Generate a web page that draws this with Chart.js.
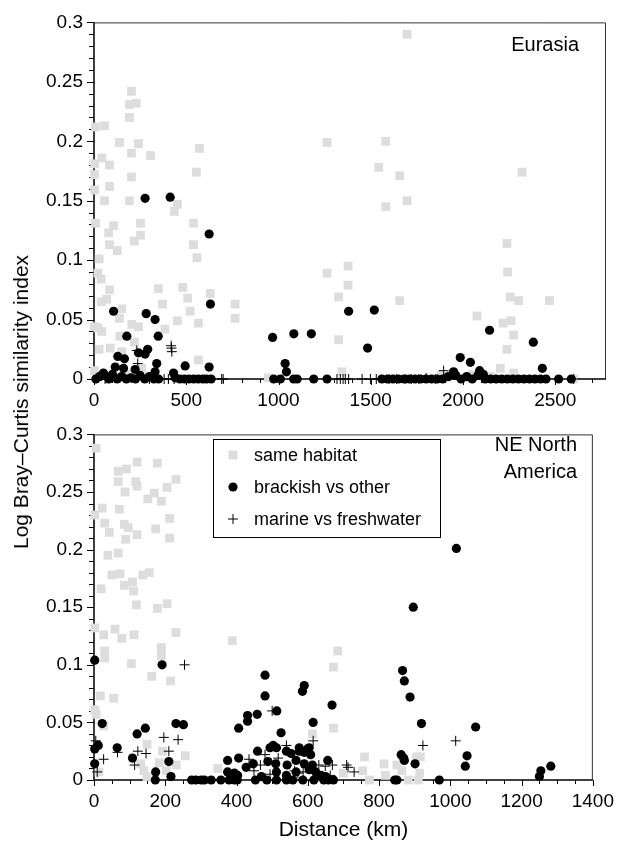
<!DOCTYPE html>
<html>
<head>
<meta charset="utf-8">
<script src="https://cdn.jsdelivr.net/npm/chart.js@4.4.1/dist/chart.umd.min.js"></script>
<style>
  body { margin: 0; background: #fff; width: 624px; height: 843px; position: relative; overflow: hidden; font-family: "Liberation Sans", Arial, sans-serif; }
  #top { position: absolute; left: 0; top: 0; }
  #bot { position: absolute; left: 0; top: 412px; }
  #ytitle { position: absolute; left: 21px; top: 402px; transform: translate(-50%, -50%) rotate(-90deg); font-size: 21px; white-space: nowrap; color: #000; }
</style>
</head>
<body>
<canvas id="top" width="624" height="412"></canvas>
<canvas id="bot" width="624" height="431"></canvas>
<div id="ytitle">Log Bray–Curtis similarity index</div>
<script>
// ---- Eurasia (distance km / log similarity) ----
const euSameKm = [
  203,192,229,192,8,57,138,241,572,203,
  306,43,3,84,555,3,203,84,3,57,
  192,452,436,8,106,79,252,252,219,84,
  126,539,539,558,28,21,39,84,69,39,
  349,481,508,371,151,138,521,452,566,205,
  241,384,21,42,140,219,28,88,151,566,
  765,765,3,259,945,1263,1697,1581,1543,1657,
  2320,1697,1581,1263,1377,1377,1326,1657,1326,2238,
  2242,2256,2301,2469,2076,2217,2260,2274,2238,2202,
  1344,2599,2274,3,30,120,180,1880,1950,2050,
  2150,630
];
const euSameVal = [
  0.242,0.231,0.232,0.220,0.212,0.213,0.199,0.198,0.194,0.190,
  0.188,0.186,0.181,0.180,0.174,0.172,0.170,0.162,0.159,0.150,
  0.150,0.147,0.141,0.131,0.129,0.123,0.131,0.121,0.116,0.113,
  0.108,0.131,0.113,0.102,0.101,0.089,0.084,0.075,0.067,0.065,
  0.076,0.077,0.068,0.063,0.059,0.051,0.057,0.049,0.047,0.046,
  0.044,0.042,0.043,0.040,0.036,0.031,0.025,0.026,0.023,0.016,
  0.063,0.051,0.007,0.009,0.001,0.199,0.290,0.200,0.178,0.171,
  0.174,0.150,0.145,0.089,0.095,0.079,0.069,0.066,0.033,0.114,
  0.090,0.069,0.066,0.066,0.053,0.047,0.049,0.037,0.025,0.009,
  0.006,0.000,0.005,0.044,0.003,0.002,0.004,0.003,0.005,0.004,
  0.002,0.072
];
const euBrackKm = [
  277,413,624,631,106,283,331,178,348,968,
  291,241,277,129,165,340,1036,494,624,115,
  160,223,51,431,331,1380,1519,1083,1178,1483,
  1043,2144,2381,1985,2040,2430,2090,1949,2110,1960,
  10,30,55,80,100,125,150,175,200,225,
  250,275,300,325,350,440,465,490,515,540,
  565,590,610,635,974,1010,1082,1101,1191,1263,
  1560,1590,1620,1650,1680,1710,1740,1770,1800,1830,
  1860,1890,1920,1960,1990,2020,2050,2080,2120,2150,
  2180,2210,2240,2270,2300,2330,2360,2390,2420,2450,
  2518,2587
];
const euBrackVal = [
  0.152,0.153,0.122,0.063,0.057,0.055,0.050,0.036,0.036,0.035,
  0.025,0.022,0.021,0.019,0.017,0.013,0.013,0.011,0.010,0.010,
  0.009,0.008,0.005,0.005,0.006,0.057,0.058,0.038,0.038,0.026,
  0.006,0.041,0.031,0.018,0.014,0.009,0.007,0.006,0.004,0.003,
  0,0.002,0.003,0,0.004,0,0.002,0,0.001,0,
  0.003,0,0.002,0,0,0.001,0,0,0,0,
  0,0,0,0,0,0,0,0,0,0,
  0,0,0,0,0,0,0,0,0,0,
  0,0,0.002,0.003,0,0.002,0,0.003,0,0,
  0,0,0,0,0,0,0,0,0,0,
  0,0
];
const euMarineKm = [
  418,420,422,232,237,403,434,692,700,1317,
  1335,1380,1453,1498,1530,1600,1640,1690,1720,1760,
  1895,2600,1350,1362,60,140,300,380,1800,1850
];
const euMarineVal = [
  0.028,0.026,0.023,0.024,0.013,0,0,0,0,0,
  0,0,0,0,0,0,0,0,0,0,
  0.007,0,0,0,0,0.001,0,0,0.001,0
];
const euXTicks = [0, 500, 1000, 1500, 2000, 2500];

// ---- NE North America ----
const naSameKm = [
  6,121,178,68,91,68,117,230,87,121,
  151,169,205,189,23,71,2,212,30,85,
  96,43,121,173,89,212,39,68,50,73,
  85,108,137,155,111,20,119,178,205,2,
  27,59,78,112,230,388,189,189,30,30,
  105,162,215,18,55,2,6,27,149,192,
  256,131,183,14,149,347,231,203,684,672,
  672,613,759,754,814,818,773,700,850,864,
  882,910,905,916,914,140
];
const naSameVal = [
  0.288,0.276,0.275,0.268,0.270,0.259,0.259,0.261,0.250,0.255,
  0.244,0.249,0.254,0.242,0.236,0.235,0.230,0.227,0.223,0.222,
  0.219,0.215,0.213,0.218,0.209,0.210,0.195,0.197,0.178,0.179,
  0.169,0.172,0.178,0.180,0.164,0.166,0.152,0.149,0.153,0.132,
  0.126,0.131,0.123,0.126,0.128,0.121,0.115,0.108,0.112,0.106,
  0.101,0.090,0.086,0.073,0.071,0.061,0.057,0.047,0.031,0.025,
  0.021,0.014,0.015,0.007,0.003,0.010,0.013,0.008,0.112,0.098,
  0.045,0.040,0.020,0.008,0.014,0.004,0.000,0.006,0.013,0.008,
  0,0,0.020,0.020,0.006,0.008
];
const naBrackKm = [
  1017,896,2,191,480,480,23,230,251,144,
  121,2,12,65,108,2,210,173,172,216,
  406,431,431,458,513,525,590,585,668,615,
  866,871,887,919,503,512,494,599,576,553,
  459,406,375,447,427,488,510,567,590,613,
  542,656,862,869,871,901,1047,1042,969,844,
  850,274,301,329,356,379,402,394,453,485,
  512,540,558,586,617,645,658,672,375,394,
  403,512,540,567,604,622,637,650,1282,1254,
  1250,1071,540,576,590,604,608,286,310,470
];
const naBrackVal = [
  0.201,0.150,0.104,0.100,0.091,0.073,0.049,0.049,0.048,0.045,
  0.040,0.027,0.030,0.028,0.019,0.014,0.016,0.007,0,0.003,
  0.045,0.056,0.051,0.057,0.060,0.041,0.082,0.077,0.065,0.050,
  0.095,0.086,0.072,0.049,0.030,0.028,0.028,0.027,0.025,0.023,
  0.025,0.019,0.017,0.014,0.011,0.016,0.014,0.017,0.014,0.013,
  0.013,0.017,0.022,0.019,0.017,0.014,0.021,0.012,0,0,
  0,0,0,0,0,0,0,0,0,0,
  0,0,0,0,0,0,0,0,0.007,0.006,
  0.004,0.007,0.004,0.007,0.009,0.007,0.004,0.003,0.012,0.008,
  0.003,0.046,0.025,0.028,0.024,0.028,0.022,0,0,0.003
];
const naMarineKm = [
  254,196,236,5,27,66,123,146,210,114,
  9,500,615,540,435,467,449,517,480,563,
  572,631,649,669,709,713,730,923,1015,494,
  663,595,587
];
const naMarineVal = [
  0.100,0.037,0.035,0.034,0.018,0.024,0.025,0.023,0.025,0.013,
  0.007,0.060,0.034,0.030,0.018,0.013,0.008,0.019,0.022,0.008,
  0.006,0.013,0.012,0.013,0.013,0.011,0.007,0.030,0.034,0.005,
  0.004,0.011,0.007
];
const naXTicks = [0, 200, 400, 600, 800, 1000, 1200, 1400];

const seriesNames = ['same habitat', 'brackish vs other', 'marine vs freshwater'];
const yTicks = [0, 0.05, 0.1, 0.15, 0.2, 0.25, 0.3];

const FONT = '"Liberation Sans", Arial, sans-serif';
const zip = (xs, ys) => xs.map((x, i) => ({ x, y: ys[i] }));

// axis frame with major/minor ticks, panel caption and legend box
const frame = {
  id: 'frame',
  beforeDatasetsDraw(chart, args, o) {
    const { ctx, chartArea: a, scales: { x, y } } = chart;
    ctx.save();
    ctx.strokeStyle = '#333';
    ctx.lineWidth = 1;
    ctx.beginPath();
    ctx.moveTo(a.left, a.top + 0.5); ctx.lineTo(a.right - 0.5, a.top + 0.5);
    ctx.lineTo(a.right - 0.5, a.bottom);
    ctx.stroke();
    ctx.strokeStyle = '#000';
    ctx.lineWidth = 1.5;
    ctx.beginPath();
    ctx.moveTo(a.left, a.top); ctx.lineTo(a.left, a.bottom); ctx.lineTo(a.right, a.bottom);
    ctx.stroke();
    ctx.lineWidth = 1;
    ctx.beginPath();
    for (let i = 0; i * o.xMinor <= x.max; i++) {
      const v = i * o.xMinor;
      const px = Math.round(x.getPixelForValue(v)) + 0.5;
      const len = v % o.xMajor === 0 ? 6 : 4;
      ctx.moveTo(px, a.bottom); ctx.lineTo(px, a.bottom + len);
    }
    for (let i = 0; i <= 30; i++) {
      const py = Math.round(y.getPixelForValue(i / 100)) + 0.5;
      const len = i % 5 === 0 ? 7 : 5;
      ctx.moveTo(a.left - len, py); ctx.lineTo(a.left, py);
    }
    ctx.stroke();
    ctx.restore();
  },
  afterDraw(chart, args, o) {
    const { ctx } = chart;
    ctx.save();
    ctx.fillStyle = '#000';
    ctx.font = '20px ' + FONT;
    ctx.textAlign = 'right';
    ctx.textBaseline = 'middle';
    o.label.forEach((t, i) => ctx.fillText(t, o.labelX, o.labelY[i]));
    if (o.legend) {
      const L = o.legend;
      ctx.strokeStyle = '#000';
      ctx.lineWidth = 1;
      ctx.strokeRect(L.x + 0.5, L.y + 0.5, L.w, L.h);
      ctx.font = '18px ' + FONT;
      ctx.textAlign = 'left';
      chart.data.datasets.forEach((ds, i) => {
        const cy = L.y + L.row0 + i * L.gap, cx = L.x + 20;
        if (ds.pointStyle === 'rect') {
          ctx.fillStyle = ds.backgroundColor;
          ctx.fillRect(cx - 4.5, cy - 4.5, 9, 9);
        } else if (ds.pointStyle === 'circle') {
          ctx.fillStyle = '#000';
          ctx.beginPath(); ctx.arc(cx, cy, 4.6, 0, Math.PI * 2); ctx.fill();
        } else {
          ctx.beginPath();
          ctx.moveTo(cx - 5, cy); ctx.lineTo(cx + 5, cy);
          ctx.moveTo(cx, cy - 5); ctx.lineTo(cx, cy + 5);
          ctx.stroke();
        }
        ctx.fillStyle = '#000';
        ctx.fillText(ds.label, L.x + 41, cy + 1);
      });
    }
    ctx.restore();
  }
};

function panel(id, d, opt) {
  return new Chart(document.getElementById(id), {
    type: 'scatter',
    data: {
      datasets: [
        { label: seriesNames[0], data: zip(d.sameKm, d.sameVal), pointStyle: 'rect', pointRadius: 6.2,
          backgroundColor: '#dddddd', borderWidth: 0, order: 3, clip: false },
        { label: seriesNames[1], data: zip(d.brackKm, d.brackVal), pointStyle: 'circle', pointRadius: 4.6,
          backgroundColor: '#000', borderWidth: 0, order: 2, clip: false },
        { label: seriesNames[2], data: zip(d.marineKm, d.marineVal), pointStyle: 'cross', pointRadius: 5,
          borderColor: '#000', borderWidth: 1, order: 1, clip: false }
      ]
    },
    options: {
      responsive: false,
      animation: false,
      events: [],
      layout: { padding: { top: opt.padTop, right: opt.padRight, left: 0, bottom: 0 } },
      plugins: {
        legend: { display: false },
        tooltip: { enabled: false },
        frame: opt.frame
      },
      scales: {
        x: {
          type: 'linear', min: 0, max: opt.xMax,
          grid: { display: false, drawTicks: false },
          border: { display: false },
          afterBuildTicks: s => { s.ticks = d.xTicks.map(v => ({ value: v })); },
          ticks: {
            padding: 10, autoSkip: false, maxRotation: 0,
            color: '#000', font: { family: FONT, size: 19 },
            callback: v => String(v)
          },
          title: opt.xTitle ? { display: true, text: opt.xTitle, color: '#000',
            font: { family: FONT, size: 21 }, padding: { top: 0, bottom: 0 } } : { display: false },
          afterFit: s => { s.height = opt.xHeight; }
        },
        y: {
          type: 'linear', min: 0, max: 0.3,
          grid: { display: false, drawTicks: false },
          border: { display: false },
          afterBuildTicks: s => { s.ticks = yTicks.map(v => ({ value: v })); },
          ticks: {
            padding: 11, color: '#000', font: { family: FONT, size: 19 },
            callback: v => String(+v.toFixed(2))
          },
          afterFit: s => { s.width = 94; }
        }
      }
    },
    plugins: [frame]
  });
}

panel('top',
  { sameKm: euSameKm, sameVal: euSameVal, brackKm: euBrackKm, brackVal: euBrackVal,
    marineKm: euMarineKm, marineVal: euMarineVal, xTicks: euXTicks },
  { xMax: 2775, padTop: 15, padRight: 18, xHeight: 33,
    frame: { xMajor: 500, xMinor: 100, label: ['Eurasia'], labelX: 579, labelY: [45] } });

panel('bot',
  { sameKm: naSameKm, sameVal: naSameVal, brackKm: naBrackKm, brackVal: naBrackVal,
    marineKm: naMarineKm, marineVal: naMarineVal, xTicks: naXTicks },
  { xMax: 1400, padTop: 3, padRight: 20, xHeight: 63, xTitle: 'Distance (km)',
    frame: { xMajor: 200, xMinor: 50, label: ['NE North', 'America'], labelX: 577, labelY: [33, 60],
      legend: { x: 213, y: 27, w: 227, h: 98, row0: 16, gap: 32 } } });
</script>
</body>
</html>
